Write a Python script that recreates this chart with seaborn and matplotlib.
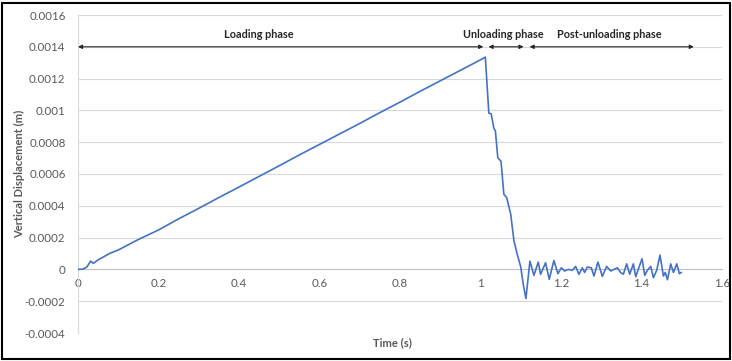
import matplotlib
matplotlib.use("Agg")
import matplotlib.pyplot as plt
import seaborn as sns
import pandas as pd
from matplotlib.patches import Rectangle

# ---------------- data ----------------
load_t = [0.0, 0.013, 0.022, 0.0315, 0.038, 0.05, 0.08, 0.1, 0.15, 0.2, 0.25, 0.3,
          0.35, 0.4, 0.45, 0.5, 0.55, 0.6, 0.65, 0.7, 0.75, 0.8, 0.85, 0.9, 0.95,
          1.0, 1.012]
load_v = [0.0, 0.000002, 0.000015, 0.000052, 0.000038, 0.00006, 0.000102, 0.000122,
          0.000188, 0.000248, 0.000318, 0.000384, 0.000452, 0.000518, 0.000585,
          0.000652, 0.00072, 0.000786, 0.000852, 0.000918, 0.000986, 0.001052,
          0.00112, 0.001186, 0.001252, 0.001318, 0.001335]

unload_t = [1.0207, 1.0266, 1.033, 1.037, 1.043, 1.051, 1.058, 1.065, 1.075,
            1.083, 1.091, 1.1, 1.106, 1.1128]
unload_v = [0.000983, 0.000978, 0.00089, 0.00087, 0.000702, 0.00068, 0.000473,
            0.000452, 0.000348, 0.000181, 0.000098, 0.000015, -0.00009, -0.000183]

post_t = [1.1228, 1.1327, 1.1435, 1.1493, 1.1617, 1.1708, 1.1824, 1.1923, 1.2007,
          1.209, 1.218, 1.228, 1.2363, 1.2446, 1.2529, 1.2587, 1.2653, 1.2753,
          1.2819, 1.2918, 1.3027, 1.3134, 1.3234, 1.3317, 1.34, 1.3483, 1.355,
          1.3632, 1.3706, 1.3798, 1.3856, 1.4013, 1.408, 1.4146, 1.4229, 1.4295,
          1.4378, 1.446, 1.4544, 1.459, 1.4644, 1.4726, 1.4793, 1.4876, 1.4942,
          1.4992]
post_v = [0.000052, -0.0000375, 0.000046, -0.000031, 0.000042, -0.0000625, 0.000056,
          -0.000027, 0.00001, -0.00001, 0.0, -0.000006, 0.000019, -0.000031, 0.00001,
          -0.000019, 0.000015, 0.00001, -0.000042, 0.000046, -0.000044, 0.000019,
          -0.00001, 0.0, 0.00001, -0.00002, -0.00003, 0.000035, -0.00003, 0.000035,
          -0.000046, 0.000067, -0.0000375, -0.000006, 0.000019, -0.000052, -0.000006,
          0.00009, -0.000042, -0.000019, -0.000065, 0.000035, -0.000019, 0.000035,
          -0.000027, -0.000019]

y_ticks = [-0.0004, -0.0002, 0.0, 0.0002, 0.0004, 0.0006, 0.0008, 0.001, 0.0012, 0.0014, 0.0016]
y_labels = ["-0.0004", "-0.0002", "0", "0.0002", "0.0004", "0.0006", "0.0008",
            "0.001", "0.0012", "0.0014", "0.0016"]
x_ticks = [0, 0.2, 0.4, 0.6, 0.8, 1.0, 1.2, 1.4, 1.6]
x_labels = ["0", "0.2", "0.4", "0.6", "0.8", "1", "1.2", "1.4", "1.6"]

phase_names = ["Loading phase", "Unloading phase", "Post-unloading phase"]
phase_start = [0.0, 1.02, 1.122]
phase_end = [1.007, 1.107, 1.53]
phase_label_x = [0.448, 1.057, 1.32]

# ---------------- plot ----------------
sns.set_theme(style="white")
plt.rcParams['font.family'] = ['Lato', 'DejaVu Sans']

df = pd.DataFrame({"t": load_t + unload_t + post_t,
                   "v": load_v + unload_v + post_v})

fig = plt.figure(figsize=(7.32, 3.61), dpi=100)
ax = fig.add_axes([78 / 732, 28 / 361, (722 - 78) / 732, (333 - 15) / 361])

sns.lineplot(data=df, x="t", y="v", sort=False, estimator=None, ax=ax,
             color="#4472C4", linewidth=1.2, zorder=3)

ax.set_xlim(0, 1.6)
ax.set_ylim(-0.0004, 0.0016)
ax.set_yticks(y_ticks)
ax.set_yticklabels(y_labels)
ax.set_xticks(x_ticks)
ax.set_xticklabels(x_labels)
ax.tick_params(axis="both", length=0, labelsize=8.3, colors="#595959")
ax.tick_params(axis="y", pad=9)
ax.tick_params(axis="x", pad=6)

for y in y_ticks:
    if y != 0:
        ax.axhline(y, color="#d9d9d9", linewidth=0.8, zorder=1)

for s in ["top", "right"]:
    ax.spines[s].set_visible(False)
ax.spines["left"].set_color("#d9d9d9")
ax.spines["left"].set_linewidth(0.8)
ax.spines["bottom"].set_position(("data", 0))
ax.spines["bottom"].set_color("#bfbfbf")
ax.spines["bottom"].set_linewidth(0.8)

ax.set_xlabel("")
ax.set_ylabel("")
fig.text(20 / 732, 1 - 174 / 361, "Vertical Displacement (m)", ha="center",
         va="center", rotation=90, fontsize=8, color="#595959", fontweight="bold")
fig.text(392 / 732, 1 - 343 / 361, "Time (s)", ha="center", va="center",
         fontsize=8, color="#595959", fontweight="bold")

# phase arrows
for name, a, b, lx in zip(phase_names, phase_start, phase_end, phase_label_x):
    ax.annotate("", xy=(a, 0.0014), xytext=(b, 0.0014),
                arrowprops=dict(arrowstyle="<|-|>", color="#262626", lw=0.8,
                                mutation_scale=6, shrinkA=0, shrinkB=0),
                annotation_clip=False, zorder=4)
    ax.text(lx, 0.00148, name, ha="center", va="center", fontsize=7.8,
            fontweight="bold", color="#262626")

# outer frame
fig.patches.append(Rectangle((2 / 732, 2 / 361), 728 / 732, 356 / 361,
                             transform=fig.transFigure, fill=False,
                             edgecolor="black", linewidth=1.5))

fig.savefig("out.png", dpi=100)
